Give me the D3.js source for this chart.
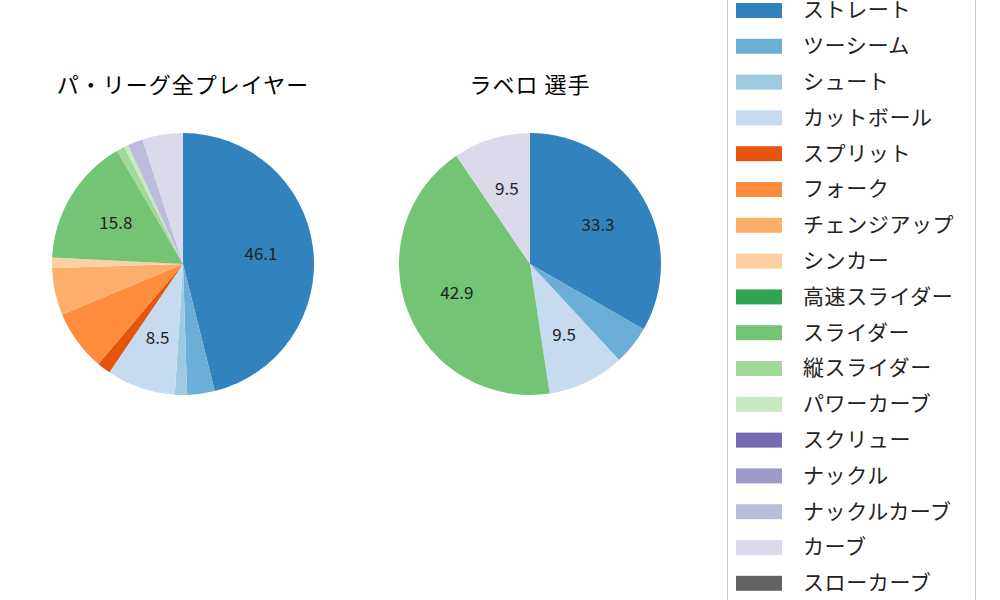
<!DOCTYPE html>
<html><head><meta charset="utf-8">
<script src="https://cdn.jsdelivr.net/npm/d3@7"></script>
<style>body{margin:0;background:#fff}svg{font-family:"Noto Sans CJK JP","DejaVu Sans",sans-serif}</style>
</head><body><svg id="c" width="1000" height="600"></svg>
<script>
var pitchTypes = ['ストレート','ツーシーム','シュート','カットボール','スプリット','フォーク','チェンジアップ','シンカー','高速スライダー','スライダー','縦スライダー','パワーカーブ','スクリュー','ナックル','ナックルカーブ','カーブ','スローカーブ'];
var colors = ['#3182bd','#6baed6','#9ecae1','#c6dbef','#e6550d','#fd8d3c','#fdae6b','#fdd0a2','#31a354','#74c476','#a1d99b','#c7e9c0','#756bb1','#9e9ac8','#bcbddc','#dadaeb','#636363'];
var leagueValues = [46.1,3.4,1.5,8.5,1.7,7.5,5.8,1.3,0,15.8,1.0,0.5,0,0,1.9,5.0,0];
var playerValues = [33.3,4.8,0,9.5,0,0,0,0,0,42.9,0,0,0,0,0,9.5,0];
var titles = ['パ・リーグ全プレイヤー','ラベロ  選手'];

var svg = d3.select('#c');
var color = d3.scaleOrdinal().domain(pitchTypes).range(colors);

function drawPie(cx, cy, r, values, title) {
  var data = pitchTypes.map(function(p, i) { return {name: p, value: values[i]}; });
  var pie = d3.pie().sort(null).value(function(d) { return d.value; });
  var arc = d3.arc().innerRadius(0).outerRadius(r);
  var lab = d3.arc().innerRadius(r * 0.6).outerRadius(r * 0.6);
  var g = svg.append('g').attr('transform', 'translate(' + cx + ',' + cy + ')');
  var arcs = pie(data).filter(function(d) { return d.data.value > 0; });
  g.selectAll('path').data(arcs).enter().append('path')
    .attr('d', arc).attr('fill', function(d) { return color(d.data.name); });
  g.selectAll('text.v').data(arcs.filter(function(d) { return d.data.value > 8; }))
    .enter().append('text')
    .attr('transform', function(d) { return 'translate(' + lab.centroid(d) + ')'; })
    .attr('text-anchor', 'middle').attr('dy', '0.35em')
    .style('font-size', '17px').attr('fill', '#222')
    .text(function(d) { return d.data.value.toFixed(1); });
  svg.append('text').attr('x', cx).attr('y', 93).attr('text-anchor', 'middle')
    .style('font-size', '22px').style('letter-spacing', '1px').text(title);
}

drawPie(183, 264, 131, leagueValues, titles[0]);
drawPie(530, 264, 131, playerValues, titles[1]);

// legend
var lg = svg.append('g');
lg.append('rect').attr('x', 727.5).attr('y', -5).attr('width', 248).attr('height', 620)
  .attr('fill', '#fff').attr('stroke', '#ccc');
var item = lg.selectAll('g.it').data(pitchTypes).enter().append('g')
  .attr('transform', function(d, i) { return 'translate(0,' + (10 + i * 35.8) + ')'; });
item.append('rect').attr('x', 736).attr('y', -7).attr('width', 46).attr('height', 15)
  .attr('fill', function(d) { return color(d); });
item.append('text').attr('x', 803).attr('dy', '0.35em').style('font-size', '21px')
  .style('letter-spacing', '0.6px')
  .attr('fill', '#222').text(function(d) { return d; });
</script></body></html>
